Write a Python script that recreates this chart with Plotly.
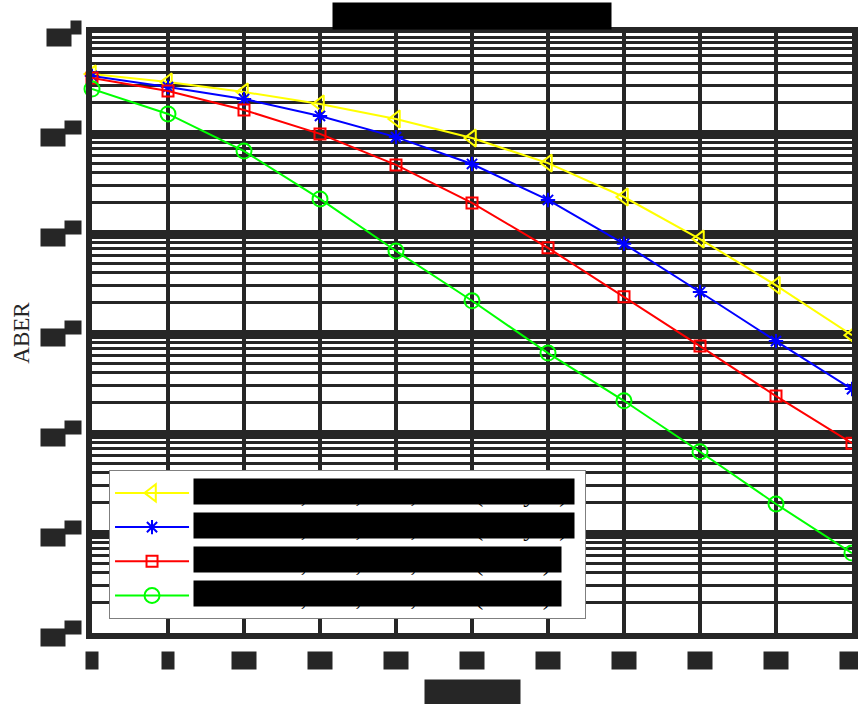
import math
import plotly.graph_objects as go

snr = [0, 5, 10, 15, 20, 25, 30, 35, 40, 45, 50]

aber_a = [0.389, 0.324, 0.257, 0.195, 0.138, 0.089, 0.050, 0.0229, 0.0087, 0.0030, 9.5e-4]
aber_b = [0.372, 0.288, 0.219, 0.148, 0.091, 0.049, 0.0214, 0.0078, 0.00257, 8.3e-4, 2.75e-4]
aber_c = [0.355, 0.263, 0.170, 0.098, 0.048, 0.020, 0.0071, 0.0023, 7.4e-4, 2.34e-4, 7.9e-5]
aber_d = [0.275, 0.155, 0.066, 0.0219, 0.0066, 0.0021, 6.3e-4, 2.1e-4, 6.5e-5, 1.95e-5, 6.3e-6]

names = [
    "OFDM-IM, N=4, K=1, M=4 (analytic)\u00a0\u00a0",
    "OFDM-IM, N=4, K=2, M=4 (analytic)\u00a0\u00a0",
    "OFDM-IM, N=4, K=1, M=2 (simul.)",
    "OFDM-IM, N=4, K=2, M=2 (simul.)",
]

x_ticks = [0, 5, 10, 15, 20, 25, 30, 35, 40, 45, 50]
x_tick_text = ["0", "5", "10", "15", "20", "25", "30", "35", "40", "45", "50"]
y_ticks = [1, 1e-1, 1e-2, 1e-3, 1e-4, 1e-5, 1e-6]
y_tick_base = "10"
y_tick_exp = ["0", "-1", "-2", "-3", "-4", "-5", "-6"]

title_text = "ABER performance of OFDM-IM"
x_title = "SNR (dB)"
y_title = "ABER"

DARK = "#262626"
FONT = "Liberation Serif"
LEG_SIZE = 24
TICK_SIZE = 24

styles = [
    dict(color="#FFFF00", symbol="triangle-left-open", size=15),
    dict(color="#0000FF", symbol="asterisk-open", size=12),
    dict(color="#FF0000", symbol="square-open", size=11),
    dict(color="#00FF00", symbol="circle-open", size=15),
]

fig = go.Figure()
for vals, nm, st in zip([aber_a, aber_b, aber_c, aber_d], names, styles):
    fig.add_trace(go.Scatter(
        x=snr, y=vals, name=nm, mode="lines+markers",
        line=dict(color=st["color"], width=2),
        marker=dict(symbol=st["symbol"], size=st["size"],
                    line=dict(color=st["color"], width=2), color=st["color"]),
        cliponaxis=False,
    ))

LEG_X = 0.0224
LEG_Y = 0.272

fig.update_layout(
    width=858, height=704,
    margin=dict(l=92, r=6, t=33, b=71),
    paper_bgcolor="white", plot_bgcolor="white",
    font=dict(family=FONT, color=DARK, size=18),
    showlegend=True,
    legend=dict(
        x=LEG_X, y=LEG_Y, xanchor="left", yanchor="top",
        bgcolor="white", bordercolor="#7f7f7f", borderwidth=1,
        font=dict(family=FONT, size=LEG_SIZE, color="black"),
        itemwidth=74,
    ),
)

fig.update_xaxes(
    range=[0, 50], tickvals=x_ticks, showticklabels=False,
    showgrid=True, gridcolor=DARK, gridwidth=4,
    showline=True, linecolor=DARK, linewidth=6, mirror=True,
    ticks="", zeroline=False, automargin=False,
)
fig.update_yaxes(
    type="log", range=[-6, 0], tickvals=y_ticks, showticklabels=False,
    showgrid=True, gridcolor=DARK, gridwidth=6,
    minor=dict(showgrid=True, gridcolor=DARK, gridwidth=3, dtick="D1", ticks=""),
    showline=True, linecolor=DARK, linewidth=6, mirror=True,
    ticks="", zeroline=False, automargin=False,
    title=dict(text=y_title, font=dict(family=FONT, size=23, color=DARK), standoff=52),
)

# text labels drawn as in the reference (real text on a matching, tight background)
for xv, tt in zip(x_ticks, x_tick_text):
    fig.add_annotation(x=xv, y=0, xref="x", yref="paper", yanchor="top", yshift=-18,
                       text=tt, showarrow=False, bgcolor=DARK,
                       width=12 * len(tt), height=17,
                       font=dict(family=FONT, size=TICK_SIZE, color=DARK), borderpad=0)
for yv, ex in zip(y_ticks, y_tick_exp):
    ew = 10 if len(ex) == 1 else 16
    fig.add_annotation(x=0, y=math.log10(yv), xref="paper", yref="y",
                       xanchor="right", yanchor="middle", xshift=-10, yshift=6,
                       text=ex, showarrow=False, bgcolor=DARK, width=ew, height=13,
                       font=dict(family=FONT, size=16, color=DARK), borderpad=0)
    fig.add_annotation(x=0, y=math.log10(yv), xref="paper", yref="y",
                       xanchor="right", yanchor="middle", xshift=-10 - ew, yshift=-4,
                       text=y_tick_base, showarrow=False, bgcolor=DARK, width=24, height=17,
                       font=dict(family=FONT, size=TICK_SIZE, color=DARK), borderpad=0)
fig.add_annotation(x=0.5, y=0, xref="paper", yref="paper", yanchor="top", yshift=-46,
                   text=x_title, showarrow=False, bgcolor=DARK, width=95, height=24,
                   font=dict(family=FONT, size=24, color=DARK), borderpad=0)
fig.add_annotation(x=0.5, y=1, xref="paper", yref="paper", yanchor="bottom", yshift=3,
                   text=title_text, showarrow=False, bgcolor="black", width=278, height=26,
                   font=dict(family=FONT, size=22, color="black"), borderpad=0)

# legend entry texts covered as in the reference
row_pitch = 34 / 600.0
first_row = LEG_Y - 22 / 600.0
text_x = LEG_X + 84 / 760.0
box_w = [380, 380, 367, 367]
for i, nm in enumerate(names):
    fig.add_annotation(x=text_x, y=first_row - i * row_pitch, xref="paper", yref="paper",
                       xanchor="left", yanchor="middle", align="left",
                       text=nm.strip("\u00a0"), showarrow=False, bgcolor="black",
                       width=box_w[i], height=25,
                       font=dict(family=FONT, size=LEG_SIZE, color="black"), borderpad=0)

fig.write_html("out.html", config={"displayModeBar": False},
               post_script="document.body.style.margin='0px';")
